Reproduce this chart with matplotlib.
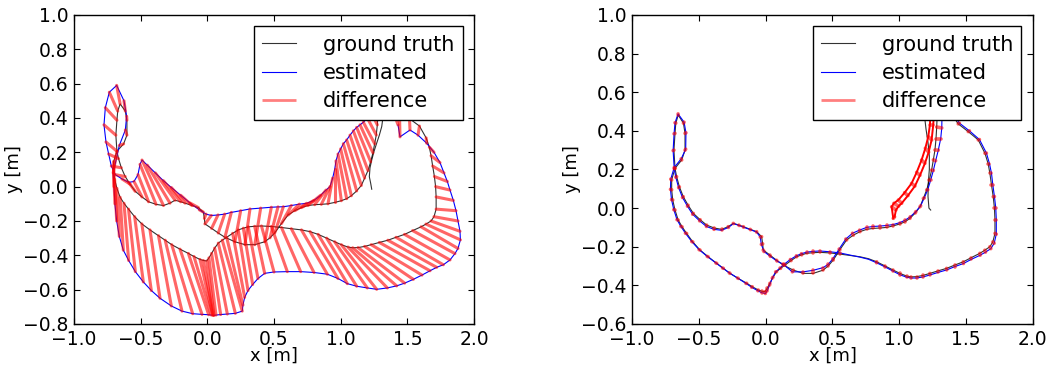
import numpy as np
import matplotlib
matplotlib.use("Agg")
import matplotlib.pyplot as plt
from matplotlib.collections import LineCollection

# Ground truth path (same run in both panels) in order
gt_x = [1.36, 1.441, 1.516, 1.591, 1.641, 1.665, 1.678, 1.69, 1.703, 1.712,
        1.716, 1.716, 1.70, 1.678, 1.64, 1.603, 1.54, 1.479, 1.415, 1.354,
        1.29, 1.229, 1.18, 1.13, 1.09, 1.055, 1.005, 0.955, 0.895, 0.831,
        0.77, 0.706, 0.63, 0.556, 0.48, 0.406, 0.355, 0.307, 0.27, 0.232,
        0.19, 0.145, 0.112, 0.082, 0.055, 0.032, 0.012, -0.005, -0.03, -0.055,
        -0.1, -0.142, -0.205, -0.267, -0.316, -0.366, -0.43, -0.491, -0.545, -0.591,
        -0.625, -0.654, -0.678, -0.695, -0.703, -0.703, -0.678, -0.628, -0.603, -0.603,
        -0.615, -0.654, -0.672, -0.678, -0.686, -0.678, -0.666, -0.645, -0.616, -0.58,
        -0.541, -0.49, -0.441, -0.385, -0.329, -0.28, -0.242, -0.2, -0.167, -0.115,
        -0.067, -0.03, -0.022, -0.018, 0.032, 0.082, 0.132, 0.207, 0.282, 0.356,
        0.431, 0.47, 0.506, 0.556, 0.606, 0.656, 0.706, 0.755, 0.805, 0.855,
        0.905, 0.955, 1.005, 1.045, 1.08, 1.12, 1.155, 1.18, 1.205, 1.225,
        1.242, 1.255, 1.267, 1.275, 1.28, 1.285]
gt_y = [0.52, 0.436, 0.396, 0.353, 0.284, 0.23, 0.18, 0.12, 0.059, 0.0,
        -0.06, -0.131, -0.175, -0.2, -0.218, -0.234, -0.256, -0.278, -0.295, -0.312,
        -0.325, -0.338, -0.348, -0.355, -0.356, -0.352, -0.338, -0.321, -0.30, -0.278,
        -0.262, -0.252, -0.245, -0.238, -0.232, -0.229, -0.231, -0.234, -0.242, -0.252,
        -0.272, -0.295, -0.312, -0.329, -0.358, -0.389, -0.415, -0.433, -0.43, -0.424,
        -0.407, -0.389, -0.364, -0.338, -0.312, -0.286, -0.252, -0.217, -0.175, -0.131,
        -0.097, -0.062, -0.01, 0.042, 0.095, 0.146, 0.206, 0.249, 0.30, 0.387,
        0.44, 0.482, 0.44, 0.387, 0.30, 0.206, 0.163, 0.11, 0.059, 0.015,
        -0.027, -0.06, -0.088, -0.103, -0.11, -0.096, -0.079, -0.088, -0.096, -0.11,
        -0.122, -0.148, -0.185, -0.217, -0.243, -0.27, -0.295, -0.321, -0.338, -0.338,
        -0.321, -0.298, -0.269, -0.215, -0.165, -0.14, -0.122, -0.11, -0.105, -0.103,
        -0.1, -0.092, -0.082, -0.07, -0.053, -0.025, 0.007, 0.05, 0.094, 0.145,
        0.197, 0.25, 0.301, 0.36, 0.42, 0.5]

# Estimated path, left panel (same samples as ground truth)
est1_x = [1.43, 1.445, 1.52, 1.58, 1.645, 1.70, 1.745, 1.775, 1.80, 1.82,
          1.845, 1.865, 1.88, 1.895, 1.898, 1.88, 1.857, 1.82, 1.77, 1.72,
          1.67, 1.61, 1.545, 1.48, 1.42, 1.35, 1.27, 1.2, 1.12, 1.05,
          0.98, 0.9, 0.8, 0.7, 0.6, 0.5, 0.43, 0.38, 0.34, 0.305,
          0.28, 0.267, 0.262, 0.21, 0.15, 0.1, 0.065, 0.05, 0.045, 0.04,
          0.03, 0.01, -0.04, -0.11, -0.19, -0.27, -0.355, -0.42, -0.48, -0.54,
          -0.59, -0.63, -0.66, -0.68, -0.693, -0.70, -0.706, -0.66, -0.615, -0.605,
          -0.625, -0.68, -0.735, -0.765, -0.775, -0.76, -0.74, -0.72, -0.69, -0.64,
          -0.59, -0.55, -0.52, -0.505, -0.49, -0.45, -0.39, -0.33, -0.27, -0.2,
          -0.13, -0.06, -0.01, 0.03, 0.08, 0.13, 0.18, 0.25, 0.32, 0.40,
          0.48, 0.53, 0.57, 0.63, 0.69, 0.745, 0.80, 0.85, 0.89, 0.92,
          0.94, 0.955, 0.965, 0.98, 1.0, 1.02, 1.045, 1.07, 1.095, 1.12,
          1.145, 1.17, 1.2, 1.23, 1.26, 1.29]
est1_y = [0.36, 0.29, 0.33, 0.30, 0.253, 0.20, 0.14, 0.08, 0.03, -0.02,
          -0.08, -0.14, -0.2, -0.26, -0.31, -0.36, -0.39, -0.427, -0.455, -0.47,
          -0.49, -0.515, -0.54, -0.562, -0.578, -0.59, -0.598, -0.59, -0.58, -0.565,
          -0.535, -0.51, -0.5, -0.495, -0.495, -0.497, -0.505, -0.535, -0.57, -0.605,
          -0.645, -0.69, -0.725, -0.738, -0.742, -0.745, -0.748, -0.75, -0.75, -0.748,
          -0.748, -0.746, -0.744, -0.74, -0.725, -0.695, -0.65, -0.605, -0.555, -0.495,
          -0.43, -0.37, -0.29, -0.2, -0.1, 0.0, 0.08, 0.24, 0.33, 0.41,
          0.50, 0.59, 0.55, 0.46, 0.36, 0.26, 0.19, 0.12, 0.07, 0.045,
          0.025, 0.03, 0.07, 0.13, 0.155, 0.125, 0.08, 0.035, -0.005, -0.05,
          -0.095, -0.135, -0.16, -0.168, -0.165, -0.16, -0.15, -0.14, -0.13, -0.125,
          -0.12, -0.118, -0.117, -0.11, -0.102, -0.097, -0.08, -0.05, -0.02, 0.0,
          0.05, 0.1, 0.15, 0.19, 0.22, 0.25, 0.272, 0.30, 0.325, 0.345,
          0.36, 0.375, 0.40, 0.43, 0.46, 0.52]

# Estimated path, right panel
est2_x = [1.37, 1.45, 1.525, 1.60, 1.652, 1.675, 1.69, 1.70, 1.712, 1.722,
          1.726, 1.726, 1.71, 1.685, 1.645, 1.605, 1.54, 1.48, 1.415, 1.355,
          1.29, 1.23, 1.18, 1.13, 1.09, 1.055, 1.005, 0.955, 0.895, 0.83,
          0.77, 0.706, 0.63, 0.556, 0.48, 0.406, 0.355, 0.307, 0.268, 0.23,
          0.185, 0.14, 0.108, 0.075, 0.05, 0.03, 0.012, -0.002, -0.03, -0.058,
          -0.104, -0.147, -0.21, -0.272, -0.322, -0.372, -0.437, -0.498, -0.553, -0.6,
          -0.634, -0.663, -0.687, -0.704, -0.712, -0.71, -0.684, -0.632, -0.598, -0.596,
          -0.61, -0.655, -0.678, -0.685, -0.692, -0.684, -0.672, -0.651, -0.622, -0.585,
          -0.546, -0.494, -0.443, -0.386, -0.329, -0.278, -0.24, -0.198, -0.165, -0.113,
          -0.068, -0.04, -0.032, -0.012, 0.035, 0.085, 0.13, 0.2, 0.282, 0.356,
          0.431, 0.47, 0.503, 0.55, 0.6, 0.65, 0.703, 0.755, 0.805, 0.855,
          0.905, 0.955, 1.005, 1.045, 1.082, 1.124, 1.16, 1.187, 1.213, 1.235,
          1.255, 1.272, 1.292, 1.31, 1.318, 1.32]
est2_y = [0.52, 0.44, 0.40, 0.355, 0.285, 0.23, 0.18, 0.12, 0.06, 0.0,
          -0.06, -0.135, -0.182, -0.21, -0.228, -0.244, -0.265, -0.287, -0.303, -0.32,
          -0.333, -0.346, -0.356, -0.362, -0.362, -0.358, -0.345, -0.327, -0.305, -0.283,
          -0.265, -0.254, -0.243, -0.232, -0.226, -0.222, -0.224, -0.228, -0.236, -0.247,
          -0.266, -0.29, -0.31, -0.33, -0.362, -0.398, -0.428, -0.442, -0.438, -0.428,
          -0.41, -0.39, -0.362, -0.335, -0.31, -0.284, -0.25, -0.215, -0.173, -0.13,
          -0.095, -0.06, -0.008, 0.044, 0.097, 0.15, 0.21, 0.255, 0.305, 0.39,
          0.445, 0.488, 0.442, 0.385, 0.298, 0.204, 0.16, 0.106, 0.055, 0.01,
          -0.032, -0.066, -0.095, -0.11, -0.115, -0.1, -0.08, -0.09, -0.099, -0.112,
          -0.124, -0.15, -0.188, -0.225, -0.25, -0.274, -0.29, -0.33, -0.33, -0.322,
          -0.308, -0.29, -0.262, -0.212, -0.16, -0.13, -0.114, -0.1, -0.095, -0.093,
          -0.09, -0.085, -0.075, -0.062, -0.045, -0.018, 0.012, 0.053, 0.095, 0.145,
          0.195, 0.245, 0.3, 0.36, 0.415, 0.5]

# Start of the ground truth run (black stub near x = 1.2)
start1_x = [1.233, 1.225, 1.215, 1.22, 1.233, 1.25, 1.27, 1.29, 1.308, 1.32]
start1_y = [-0.015, 0.02, 0.058, 0.11, 0.155, 0.205, 0.253, 0.30, 0.35, 0.42]
start2_x = [1.235, 1.222, 1.215, 1.217, 1.225, 1.225, 1.215, 1.20, 1.19]
start2_y = [-0.01, 0.0, 0.06, 0.13, 0.2, 0.27, 0.34, 0.41, 0.47]

# Narrow red hook in the right panel (its two edges)
hook_a_x = [0.955, 0.943, 0.96, 0.993, 1.04, 1.092, 1.13, 1.167, 1.195, 1.217, 1.229, 1.235]
hook_a_y = [-0.053, 0.007, 0.025, 0.042, 0.08, 0.128, 0.185, 0.249, 0.31, 0.37, 0.43, 0.5]
hook_b_x = [0.965, 0.975, 0.995, 1.018, 1.065, 1.117, 1.155, 1.192, 1.22, 1.242, 1.254, 1.26]
hook_b_y = [-0.045, -0.01, 0.01, 0.025, 0.065, 0.114, 0.17, 0.232, 0.29, 0.353, 0.43, 0.5]


def diff_lines(ax, ax_, ay_, bx_, by_, lw):
    segs = np.stack([np.column_stack([ax_, ay_]), np.column_stack([bx_, by_])], axis=1)
    lc = LineCollection(segs, colors="red", alpha=0.6, linewidths=lw,
                        capstyle="round", zorder=3)
    ax.add_collection(lc)
    return lc


def plot_panel(ax, ex, ey, sx, sy, ylow, lw):
    h_gt, = ax.plot(gt_x, gt_y, color="black", lw=0.8, alpha=0.8, zorder=2)
    ax.plot(sx, sy, color="black", lw=0.8, alpha=0.8, zorder=2)
    h_est, = ax.plot(ex, ey, color="blue", lw=0.8, zorder=2)
    lc = diff_lines(ax, gt_x, gt_y, ex, ey, lw)

    ax.set_xlim(-1.0, 2.0)
    ax.set_ylim(ylow, 1.0)
    ax.set_xticks(np.arange(-1.0, 2.01, 0.5))
    ax.set_yticks(np.arange(ylow, 1.01, 0.2))
    ax.set_xlabel("x [m]", fontsize=13, labelpad=-1)
    ax.set_ylabel("y [m]", fontsize=13, labelpad=0)
    ax.tick_params(direction="in", top=True, right=True, length=4,
                   labelsize=13.5, pad=4)
    for s in ax.spines.values():
        s.set_linewidth(1.0)

    leg = ax.legend([h_gt, h_est, lc], ["ground truth", "estimated", "difference"],
                    loc="upper right", fontsize=15, fancybox=False, framealpha=1,
                    edgecolor="black", handlelength=1.6, handletextpad=1.3,
                    labelspacing=0.4, borderpad=0.4, borderaxespad=0.55)
    leg.get_frame().set_linewidth(1.0)
    leg.legend_handles[2].set_linewidth(2.0)
    leg.legend_handles[2].set_alpha(0.5)
    leg.set_zorder(5)
    return lc


fig = plt.figure(figsize=(10.51, 3.67), dpi=100)
ax1 = fig.add_axes([0.0704, 0.1172, 0.3806, 0.842])
ax2 = fig.add_axes([0.6013, 0.1172, 0.3815, 0.842])

plot_panel(ax1, est1_x, est1_y, start1_x, start1_y, -0.8, 2.2)
plot_panel(ax2, est2_x, est2_y, start2_x, start2_y, -0.6, 2.6)

# hook in the right panel: edges and the lines between them
diff_lines(ax2, hook_a_x, hook_a_y, hook_b_x, hook_b_y, 2.6)
ax2.plot(hook_a_x, hook_a_y, color="red", lw=1.4, zorder=3)
ax2.plot(hook_b_x, hook_b_y, color="red", lw=1.4, zorder=3)

fig.savefig("out.png", dpi=100)
